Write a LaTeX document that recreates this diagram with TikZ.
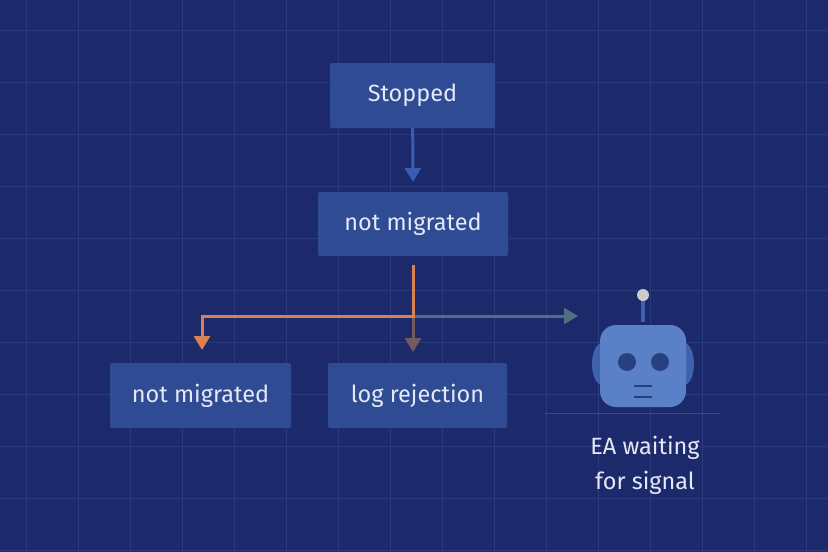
\documentclass[tikz,border=0pt]{standalone}
\usepackage{fontspec}
\setmainfont{Fira Sans}
\usetikzlibrary{arrows.meta,positioning}
\definecolor{bgblue}{HTML}{1C2A6B}
\definecolor{gridblue}{HTML}{2A3A7C}
\definecolor{boxblue}{HTML}{2F4B94}
\definecolor{txtwhite}{HTML}{E4E9F5}
\definecolor{arrblue}{HTML}{3A5DB0}
\definecolor{arrorange}{HTML}{D9824F}
\definecolor{arrbrown}{HTML}{725A5E}
\definecolor{arrteal}{HTML}{4F7080}
\definecolor{robotblue}{HTML}{5A80C8}
\definecolor{robotdark}{HTML}{3F62AE}
\definecolor{eyeblue}{HTML}{28407F}
\begin{document}
\begin{tikzpicture}[x=1pt,y=-1pt,
    box/.style={rectangle,fill=boxblue,rounded corners=2pt,align=center,minimum height=65pt,font=\fontsize{23.5}{28}\selectfont,text=txtwhite},
    lbl/.style={align=center,font=\fontsize{23.5}{35}\selectfont,text=txtwhite},
    flow/.style={line width=3pt,-{Triangle[width=16pt,length=14pt]}}]
    \fill[bgblue] (0,0) rectangle (828,552);
    \useasboundingbox (0,0) rectangle (828,552);
    % grid
    \foreach \gx in {26,78,...,828} \draw[gridblue,line width=1pt] (\gx,0) -- (\gx,552);
    \foreach \gy in {30,82,...,552} \draw[gridblue,line width=1pt] (0,\gy) -- (828,\gy);
    % boxes
    \node[box,minimum width=165pt] (stop) at (412.5,95.5) {Stopped};
    \node[box,minimum width=190pt,minimum height=64pt] (nm) at (413,224) {not migrated};
    \node[box,minimum width=181pt] (nmleft) at (200.5,395.5) {not migrated};
    \node[box,minimum width=179pt] (rej) at (417.5,395.5) {log rejection};
    \coordinate (split) at (413,316);
    \coordinate (ea) at (578,316);
    % connectors
    \draw[flow,arrblue] (stop) -- (413,182);
    \draw[flow,arrteal] (split) -- (ea);
    \draw[flow,arrbrown] (split) -- (413,352);
    \draw[flow,arrorange] (413,265) -- (split) -| (202,350);
    % robot
    \draw[robotdark,line width=1pt,opacity=.6] (545,413) -- (720,413);
    \draw[robotdark,line width=4pt] (643,298) -- (643,322);
    \fill[gray!40!white] (643,295) circle (6);
    \fill[robotdark] (612,328) arc (180:0:31 and 12) -- cycle;
    \fill[robotdark] (602,364) ellipse (10 and 21);
    \fill[robotdark] (684,364) ellipse (10 and 21);
    \fill[robotblue,rounded corners=16pt] (600,325) rectangle (686,407);
    \fill[eyeblue] (627,362) circle (9);
    \fill[eyeblue] (660,362) circle (9);
    \draw[eyeblue,line width=2pt] (634,386) -- (652,386) (634,397) -- (652,397);
    \node[lbl] (eatext) at (645,465) {EA waiting\\for signal};
\end{tikzpicture}
\end{document}
